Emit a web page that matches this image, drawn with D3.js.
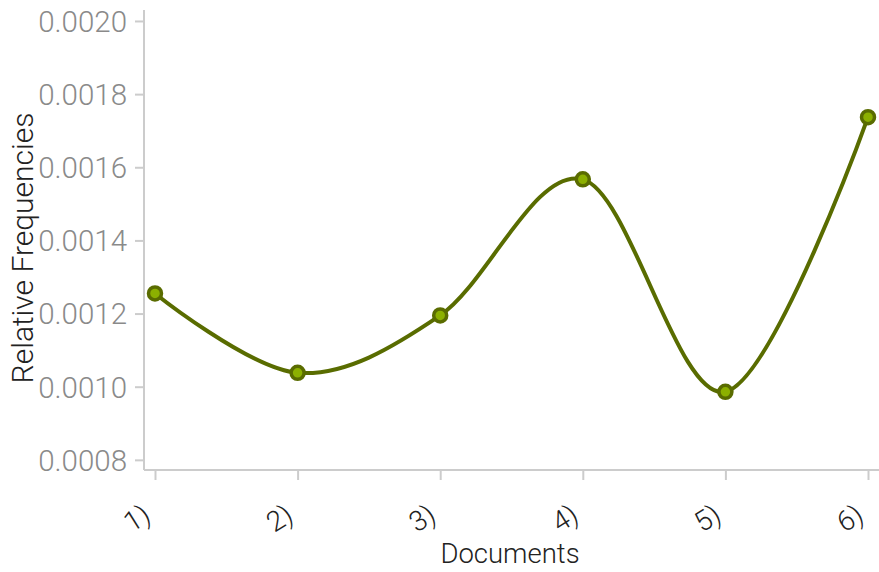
<!DOCTYPE html>
<html>
<head>
<meta charset="utf-8">
<script src="https://cdn.jsdelivr.net/npm/d3@7"></script>
<style>
  html, body { margin: 0; padding: 0; background: #fff; }
  svg { display: block; }
  text { font-family: Roboto, "Helvetica Neue", Arial, sans-serif; font-weight: 300; }
</style>
</head>
<body>
<svg id="chart" width="879" height="572"></svg>
<script>
const categories = ["1)", "2)", "3)", "4)", "5)", "6)"];
const values = [0.001255, 0.001038, 0.001195, 0.001567, 0.000986, 0.001737];
const yTicks = [0.0008, 0.0010, 0.0012, 0.0014, 0.0016, 0.0018, 0.0020];
const xTitle = "Documents";
const yTitle = "Relative Frequencies";

const svg = d3.select("#chart");
const axisX = 144, axisY = 470;

const x = d3.scalePoint().domain(categories).range([155, 868]);
const y = d3.scaleLinear().domain([0.000775, 0.00203]).range([469, 10]);

// y axis
const gy = svg.append("g").attr("transform", `translate(${axisX},0)`)
  .call(d3.axisLeft(y).tickValues(yTicks).tickSize(9).tickPadding(8).tickFormat(d3.format(".4f")));
gy.select(".domain").attr("stroke", "#ccc").attr("stroke-width", 2).attr("d", `M0,${y.range()[1]}V${axisY}`);
gy.selectAll(".tick line").attr("stroke", "#ccc").attr("stroke-width", 2);
gy.selectAll(".tick text").attr("fill", "#8a8a8a").style("font-size", "29.5px").attr("dy", "0.35em");

// x axis
const gx = svg.append("g").attr("transform", `translate(0,${axisY})`)
  .call(d3.axisBottom(x).tickSize(10).tickPadding(0));
gx.select(".domain").attr("stroke", "#ccc").attr("stroke-width", 2).attr("d", `M${axisX},0H879`);
gx.selectAll(".tick line").attr("stroke", "#ccc").attr("stroke-width", 2);
gx.selectAll(".tick text")
  .attr("fill", "#222")
  .style("font-size", "28px")
  .attr("text-anchor", "end")
  .attr("y", 0).attr("dy", 0)
  .attr("transform", "translate(-3,50) rotate(-32)");

// titles
svg.append("text").attr("x", 510).attr("y", 563).attr("text-anchor", "middle")
  .attr("fill", "#222").style("font-size", "27.5px").text(xTitle);
svg.append("text").attr("transform", "translate(33,248) rotate(-90)").attr("text-anchor", "middle")
  .attr("fill", "#222").style("font-size", "30px").text(yTitle);

// line
const line = d3.line().x((d, i) => x(categories[i])).y(d => y(d)).curve(d3.curveCardinal);
svg.append("path").datum(values).attr("d", line)
  .attr("fill", "none").attr("stroke", "#596c00").attr("stroke-width", 4);

// points
svg.selectAll("circle.pt").data(values).join("circle").attr("class", "pt")
  .attr("cx", (d, i) => x(categories[i])).attr("cy", d => y(d)).attr("r", 6.5)
  .attr("fill", "#8cb000").attr("stroke", "#5a6c00").attr("stroke-width", 3.5);
</script>
</body>
</html>
